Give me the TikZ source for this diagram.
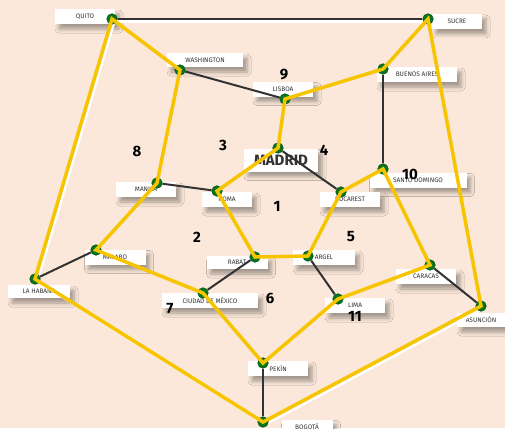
\documentclass[tikz,border=0pt]{standalone}
\usepackage{fontspec}
\setsansfont{Fira Sans}
\usetikzlibrary{shadows.blur}

\definecolor{peach}{RGB}{251,232,218}
\definecolor{route}{RGB}{247,196,0}
\definecolor{leaf}{RGB}{8,118,28}
\definecolor{ink}{RGB}{50,50,50}

\pgfdeclarelayer{back}
\pgfdeclarelayer{edges}
\pgfdeclarelayer{front}
\pgfsetlayers{back,edges,main,front}

\begin{document}
\begin{tikzpicture}[
  x=1pt, y=-1pt,
  city/.style={circle, fill=leaf, draw=leaf!70!black, line width=0.6pt,
               inner sep=0pt, minimum size=10.5pt},
  tag/.style={fill=white, inner sep=0pt, minimum height=15pt, text=ink,
              font=\sffamily\fontsize{6.5}{7}\selectfont,
              blur shadow={shadow xshift=4pt, shadow yshift=-5pt,
                           shadow blur radius=4pt, shadow opacity=35}},
  road/.style={line width=2pt, draw=ink},
  tour/.style={line width=3.5pt, draw=route, line join=miter},
  glow/.style={line width=2.2pt, draw=white,
               transform canvas={xshift=2.5pt, yshift=-2.5pt}},
  face/.style={font=\sffamily\bfseries\fontsize{15}{15}\selectfont},
]
\useasboundingbox (0,0) rectangle (505,428);

% cities
\node[city] (qui) at (112,19) {};
\node[city] (suc) at (428,19) {};
\node[city] (was) at (180,70) {};
\node[city] (ba)  at (383,69) {};
\node[city] (lis) at (285,99) {};
\node[city] (mad) at (278,148) {};
\node[city] (sd)  at (383,169) {};
\node[city] (man) at (157,183) {};
\node[city] (rom) at (217,191) {};
\node[city] (buc) at (341,192) {};
\node[city] (mal) at (96,250) {};
\node[city] (rab) at (255,257) {};
\node[city] (arg) at (308,256) {};
\node[city] (car) at (430,265) {};
\node[city] (lah) at (35,279) {};
\node[city] (cdm) at (203,293) {};
\node[city] (lim) at (338,299) {};
\node[city] (asu) at (481,306) {};
\node[city] (pek) at (263,363) {};
\node[city] (bog) at (263,422) {};

% background and name tags
\begin{pgfonlayer}{back}
\fill[peach] (0,0) rectangle (505,428);
\node[tag, minimum width=60pt] (qui-t) at (85,16.5) {QUITO};
\node[tag, minimum width=50pt] (suc-t) at (457,21.5) {SUCRE};
\node[tag, minimum width=76pt, minimum height=14pt] (was-t) at (205,60) {WASHINGTON};
\node[tag, minimum width=60pt] (lis-t) at (283,89) {LISBOA};
\node[tag, minimum width=80pt] (ba-t) at (417,74.5) {BUENOS AIRES};
\node[tag, minimum width=74pt, minimum height=23pt,
      font=\sffamily\bfseries\fontsize{15}{15}\selectfont] (mad-t) at (281,160) {MADRID};
\node[tag, minimum width=97pt] (sd-t) at (418,180) {SANTO DOMINGO};
\node[tag, minimum width=60pt] (man-t) at (146,189.5) {MANILA};
\node[tag, minimum width=50pt] (rom-t) at (227,199.5) {ROMA};
\node[tag, minimum width=60pt] (buc-t) at (350,199.5) {BUCAREST};
\node[tag, minimum width=61pt] (mal-t) at (115,257) {MALABO};
\node[tag, minimum width=61pt, minimum height=13pt] (rab-t) at (237,262.5) {RABAT};
\node[tag, minimum width=62pt] (arg-t) at (324,257.5) {ARGEL};
\node[tag, minimum width=60pt] (car-t) at (426,276.5) {CARACAS};
\node[tag, minimum width=62pt, minimum height=13pt] (lah-t) at (39,291.5) {LA HABANA};
\node[tag, minimum width=96pt] (cdm-t) at (210,300.5) {CIUDAD DE MÉXICO};
\node[tag, minimum width=60pt] (lim-t) at (355,305.5) {LIMA};
\node[tag, minimum width=48pt, minimum height=14pt] (asu-t) at (481,320) {ASUNCIÓN};
\node[tag, minimum width=60pt] (pek-t) at (278,368.5) {PEKÍN};
\node[tag, minimum width=51pt] (bog-t) at (307,427) {BOGOTÁ};
\end{pgfonlayer}

% edges left out of the tour
\begin{pgfonlayer}{edges}
\draw[glow] (qui.center) -- (suc.center);
\draw[glow] (qui.center) -- (lah.center) -- (bog.center) -- (asu.center);
\draw[road] (qui) -- (suc);
\draw[road] (asu) -- (car);
\draw[road] (bog) -- (pek);
\draw[road] (lah) -- (mal);
\draw[road] (was) -- (lis);
\draw[road] (ba) -- (sd);
\draw[road] (lim) -- (arg);
\draw[road] (cdm) -- (rab);
\draw[road] (man) -- (rom);
\draw[road] (buc) -- (mad);
\end{pgfonlayer}

% the tour
\begin{pgfonlayer}{front}
\draw[tour] (qui.center) -- (was.center) -- (man.center) -- (mal.center)
  -- (cdm.center) -- (pek.center) -- (lim.center) -- (car.center)
  -- (sd.center) -- (buc.center) -- (arg.center) -- (rab.center)
  -- (rom.center) -- (mad.center) -- (lis.center) -- (ba.center)
  -- (suc.center) -- (asu.center) -- (bog.center) -- (lah.center) -- cycle;

\node[face] (f1)  at (277,206) {1};
\node[face] (f2)  at (197,237) {2};
\node[face] (f3)  at (223,145) {3};
\node[face] (f4)  at (324,150) {4};
\node[face] (f5)  at (351,237) {5};
\node[face] (f6)  at (270,298) {6};
\node[face] (f7)  at (170,309) {7};
\node[face] (f8)  at (137,151) {8};
\node[face] (f9)  at (284,75) {9};
\node[face] (f10) at (410,174) {10};
\node[face] (f11) at (355,316) {11};
\end{pgfonlayer}
\end{tikzpicture}
\end{document}
